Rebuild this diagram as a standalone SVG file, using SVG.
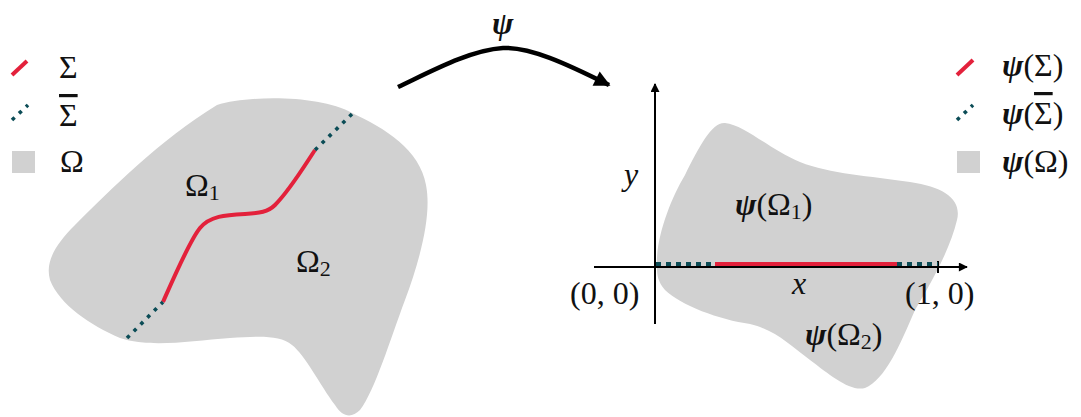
<svg xmlns="http://www.w3.org/2000/svg" width="1081" height="417" viewBox="0 0 1081 417">
<defs>
<style>
.t{font-family:"Liberation Serif","DejaVu Serif",serif;font-size:32px;fill:#111}
.it{font-style:italic}
.bi{font-style:italic;font-weight:bold}
.sub{font-size:22px}
.ov{text-decoration:overline}
.red{stroke:#e3213b;fill:none;stroke-width:4}
.dot{stroke:#0b4c56;fill:none;stroke-width:3.6;stroke-dasharray:3.6 6}
.axis{stroke:#000;stroke-width:2;fill:none}
.region{fill:#d1d1d1}
</style>
<marker id="ah" viewBox="0 0 10 10" refX="9" refY="5" markerWidth="10" markerHeight="9" markerUnits="userSpaceOnUse" orient="auto"><path d="M0,0 L10,5 L0,10 Z" fill="#000"/></marker>
<marker id="bigah" viewBox="0 0 10 10" refX="9" refY="5" markerWidth="18" markerHeight="16" markerUnits="userSpaceOnUse" orient="auto"><path d="M0,0 L10,5 L0,10 Z" fill="#000"/></marker>
</defs>

<g id="legend-left">
<line class="red" x1="12" y1="75" x2="27" y2="61"/>
<line class="dot" x1="12" y1="120" x2="28" y2="105"/>
<rect class="region" x="12" y="151" width="23" height="22"/>
<text class="t" x="59" y="78">Σ</text>
<text class="t" x="59" y="126"><tspan class="ov">Σ</tspan></text>
<text class="t" x="60" y="172">Ω</text>
</g>

<g id="domain-left">
<path class="region" d="M 217,105 C 250,95 320,95 352,113 C 385,128 420,150 426,185 C 432,215 420,260 405,300 C 390,340 375,390 360,410 C 352,418 343,418 335,405 C 320,385 305,355 292,345 C 280,335 260,336 230,338 C 190,341 150,348 120,338 C 90,325 60,305 50,280 C 45,262 55,245 75,225 C 110,190 160,140 217,105 Z"/>
<path class="red" d="M 163,302 C 175,275 190,240 200,228 C 210,216 225,215 245,214 C 260,213 268,212 275,205 C 290,190 305,165 315,150"/>
<path class="dot" d="M 127,338 L 163,302 M 315,150 L 352,114"/>
<text class="t" x="185" y="196">Ω<tspan class="sub" dy="4">1</tspan></text>
<text class="t" x="296" y="272">Ω<tspan class="sub" dy="4">2</tspan></text>
</g>

<g id="connectors">
<path d="M 398,87 C 430,72 470,50 503,48 C 530,47 565,63 609,85" stroke="#000" stroke-width="4.5" fill="none" marker-end="url(#bigah)"/>
<text class="t bi" x="492" y="34">ψ</text>
</g>

<g id="domain-right">
<path class="region" d="M 657,268 C 655,240 670,200 685,175 C 700,145 712,122 725,123 C 745,125 770,150 800,162 C 830,174 870,176 910,182 C 945,187 962,200 957,220 C 950,250 930,285 915,310 C 900,345 885,380 865,388 C 850,392 830,375 810,360 C 790,345 775,330 750,324 C 720,320 680,305 665,290 C 658,282 657,275 657,268 Z"/>
<line class="axis" x1="594" y1="267" x2="967" y2="267" marker-end="url(#ah)"/>
<line class="axis" x1="655" y1="324" x2="655" y2="84" marker-end="url(#ah)"/>
<line class="axis" x1="938" y1="261" x2="938" y2="273"/>
<line x1="656" y1="264" x2="715" y2="264" stroke="#0b4c56" stroke-width="4" stroke-dasharray="5 5"/>
<line x1="715" y1="264" x2="897" y2="264" stroke="#e3213b" stroke-width="4"/>
<line x1="897" y1="264" x2="938" y2="264" stroke="#0b4c56" stroke-width="4" stroke-dasharray="5 5"/>
<text class="t it" x="624" y="185">y</text>
<text class="t it" x="792" y="294">x</text>
<text class="t" x="570" y="304">(0, 0)</text>
<text class="t" x="905" y="304">(1, 0)</text>
<text class="t" x="735" y="215"><tspan class="bi">ψ</tspan>(Ω<tspan class="sub" dy="4">1</tspan><tspan dy="-4">)</tspan></text>
<text class="t" x="805" y="345"><tspan class="bi">ψ</tspan>(Ω<tspan class="sub" dy="4">2</tspan><tspan dy="-4">)</tspan></text>
</g>

<g id="legend-right">
<line class="red" x1="957" y1="75" x2="973" y2="60"/>
<line class="dot" x1="957" y1="120" x2="973" y2="105"/>
<rect class="region" x="957" y="151" width="23" height="22"/>
<text class="t" x="1002" y="76"><tspan class="bi">ψ</tspan>(Σ)</text>
<text class="t" x="1002" y="124"><tspan class="bi">ψ</tspan>(<tspan class="ov">Σ</tspan>)</text>
<text class="t" x="1002" y="172"><tspan class="bi">ψ</tspan>(Ω)</text>
</g>
</svg>
